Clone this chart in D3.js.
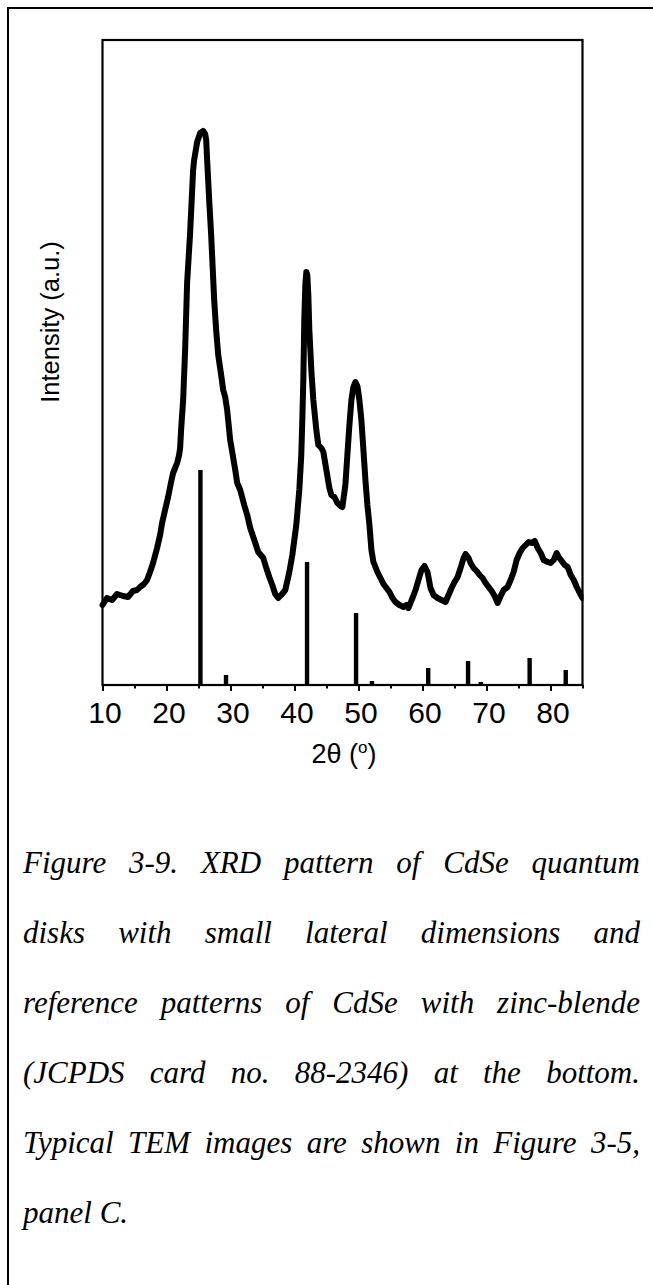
<!DOCTYPE html>
<html>
<head>
<meta charset="utf-8">
<script src="https://cdn.jsdelivr.net/npm/d3@7/dist/d3.min.js"></script>
<style>
  html, body { margin: 0; padding: 0; background: #fff; }
  svg { display: block; }
</style>
</head>
<body>
<svg id="fig" width="653" height="1285"></svg>
<script>
// Measured XRD pattern of the CdSe quantum disks (2θ in degrees, intensity in a.u.)
const twoTheta = [
  10.00, 10.70, 11.49, 12.27, 13.21, 13.99, 14.77, 15.40, 15.87, 16.49,
  16.96, 17.43, 17.90, 18.53, 19.00, 19.31, 19.78, 20.25, 20.72, 21.03,
  21.35, 21.66, 21.97, 22.13, 22.28, 22.60, 22.91, 23.22, 23.69, 24.16,
  24.32, 24.79, 25.26, 25.73, 26.04, 26.20, 26.35, 26.67, 26.98, 27.45,
  27.76, 28.08, 28.54, 28.86, 29.17, 29.48, 29.95, 30.27, 30.74, 31.05,
  31.52, 32.14, 32.61, 33.08, 33.71, 34.33, 35.12, 35.59, 36.06, 36.53,
  36.99, 37.46, 37.93, 38.56, 39.19, 39.66, 40.28, 40.75, 41.06, 41.22,
  41.38, 41.53, 41.69, 41.85, 42.00, 42.16, 42.32, 42.63, 42.94, 43.41,
  43.72, 44.19, 44.51, 44.98, 45.45, 45.76, 46.23, 46.70, 47.17, 47.48,
  47.95, 48.26, 48.58, 48.89, 49.20, 49.51, 49.83, 50.14, 50.45, 50.77,
  51.08, 51.39, 51.71, 52.02, 52.33, 52.96, 53.43, 53.90, 54.37, 54.84,
  55.31, 55.77, 56.40, 57.03, 57.50, 57.81, 58.12, 58.44, 58.91, 59.37,
  59.84, 60.31, 60.78, 61.25, 61.72, 62.35, 62.97, 63.60, 64.07, 64.54,
  65.01, 65.48, 65.95, 66.42, 66.73, 67.20, 67.51, 67.98, 68.45, 68.92,
  69.39, 69.86, 70.33, 70.80, 71.27, 71.74, 72.21, 72.68, 73.30, 73.77,
  74.24, 74.71, 75.18, 75.65, 76.12, 76.59, 77.06, 77.53, 78.00, 78.47,
  78.94, 79.56, 80.03, 80.50, 80.97, 81.28, 81.75, 82.22, 82.69, 83.16,
  83.63, 84.10, 84.57, 85.00
];
const intensity = [
  80, 87, 85, 91, 89, 88, 94, 95, 98, 101,
  105, 113, 122, 137, 150, 162, 175, 188, 203, 212,
  217, 222, 230, 237, 255, 285, 335, 402, 452, 515,
  525, 543, 552, 554, 551, 545, 525, 485, 450, 385,
  355, 330, 310, 295, 288, 275, 245, 233, 215, 202,
  195, 180, 170, 157, 145, 133, 127, 117, 108, 100,
  91, 87, 90, 95, 113, 130, 160, 195, 230, 265,
  305, 365, 400, 413, 410, 390, 355, 315, 285, 255,
  240, 237, 233, 215, 197, 190, 188, 182, 179, 178,
  200, 230, 260, 285, 298, 303, 299, 285, 265, 235,
  205, 180, 160, 135, 123, 113, 107, 101, 97, 93,
  87, 83, 80, 78, 80, 77, 82, 87, 95, 105,
  115, 119, 113, 97, 90, 87, 85, 83, 90, 97,
  103, 108, 117, 127, 131, 127, 122, 117, 114, 110,
  107, 102, 98, 94, 89, 82, 89, 95, 98, 105,
  113, 125, 132, 137, 140, 143, 142, 144, 137, 132,
  125, 123, 122, 125, 132, 128, 124, 120, 118, 110,
  105, 98, 92, 87
];

// Zinc-blende CdSe reference lines (JCPDS 88-2346)
const refPositions = [25.30, 29.30, 41.96, 49.62, 52.10, 60.89, 67.12, 69.10, 76.74, 82.38];
const refIntensity = [215, 10, 123, 72, 4, 17, 24, 3, 27, 15];

const xMajorTicks = [10, 20, 30, 40, 50, 60, 70, 80];
const xMinorTicks = [15, 25, 35, 45, 55, 65, 75, 85];

const captionLines = [
  "Figure 3-9. XRD pattern of CdSe quantum",
  "disks with small lateral dimensions and",
  "reference patterns of CdSe with zinc-blende",
  "(JCPDS card no. 88-2346) at the bottom.",
  "Typical TEM images are shown in Figure 3-5,",
  "panel C."
];

const svg = d3.select("#fig");
const W = 653, H = 1285;
svg.append("rect").attr("width", W).attr("height", H).attr("fill", "#fff");

// page frame (open on the right and bottom)
svg.append("rect")
  .attr("x", 8).attr("y", 8).attr("width", 760).attr("height", 1400)
  .attr("fill", "none").attr("stroke", "#000").attr("stroke-width", 2);

const plot = { left: 102.5, right: 582.5, top: 40, bottom: 685 };

const x = d3.scaleLinear().domain([10, 85]).range([plot.left, plot.right]);
const y = d3.scaleLinear().domain([0, 645]).range([plot.bottom, plot.top]);

const sansFont = "'Liberation Sans', Arial, sans-serif";

// reference sticks
svg.append("g").selectAll("rect")
  .data(refPositions.map((p, i) => ({ p, v: refIntensity[i] })))
  .join("rect")
  .attr("x", d => x(d.p) - 2.2)
  .attr("width", 4.4)
  .attr("y", d => y(d.v))
  .attr("height", d => y(0) - y(d.v))
  .attr("fill", "#000");

// measured pattern
const line = d3.line()
  .x((d, i) => x(twoTheta[i]))
  .y(d => y(d))
  .curve(d3.curveLinear);

svg.append("path")
  .datum(intensity)
  .attr("d", line)
  .attr("fill", "none")
  .attr("stroke", "#000")
  .attr("stroke-width", 6)
  .attr("stroke-linejoin", "round")
  .attr("stroke-linecap", "round");

// keep the trace inside the right edge
svg.append("rect").attr("x", plot.right + 1).attr("y", plot.top).attr("width", 8).attr("height", plot.bottom - plot.top).attr("fill", "#fff");

// axis frame
svg.append("rect")
  .attr("x", plot.left).attr("y", plot.top)
  .attr("width", plot.right - plot.left).attr("height", plot.bottom - plot.top)
  .attr("fill", "none").attr("stroke", "#000").attr("stroke-width", 2.2);

// bottom axis: major ticks with labels
const xAxis = d3.axisBottom(x)
  .tickValues(xMajorTicks)
  .tickSize(6)
  .tickPadding(10.5)
  .tickFormat(d3.format("d"));

const gx = svg.append("g")
  .attr("transform", `translate(0,${plot.bottom})`)
  .call(xAxis);
gx.select(".domain").remove();
gx.selectAll(".tick line").attr("stroke", "#000").attr("stroke-width", 2);
gx.selectAll(".tick text")
  .attr("font-family", sansFont)
  .attr("font-size", 30)
  .attr("dx", 2)
  .attr("fill", "#000");

// minor ticks
const xMinor = d3.axisBottom(x).tickValues(xMinorTicks).tickSize(3.5).tickFormat("");
const gxm = svg.append("g")
  .attr("transform", `translate(0,${plot.bottom})`)
  .call(xMinor);
gxm.select(".domain").remove();
gxm.selectAll(".tick line").attr("stroke", "#000").attr("stroke-width", 2);

// axis titles
const xt = svg.append("text")
  .attr("x", 344).attr("y", 763)
  .attr("text-anchor", "middle")
  .attr("font-family", sansFont)
  .attr("font-size", 27)
  .attr("fill", "#000");
xt.append("tspan").text("2θ (");
xt.append("tspan").attr("font-size", 17).attr("dy", -10).text("o");
xt.append("tspan").attr("dy", 10).text(")");

svg.append("text")
  .attr("transform", `translate(59,${322}) rotate(-90)`)
  .attr("text-anchor", "middle")
  .attr("font-family", sansFont)
  .attr("font-size", 25.5)
  .attr("fill", "#000")
  .text("Intensity (a.u.)");

// justified caption
const capFont = "'Liberation Serif', 'Times New Roman', serif";
const capSize = 31;
const capLeft = 23, capRight = 640;
const capTop = 873, capStep = 70;

function measure(str) {
  const t = svg.append("text")
    .attr("font-family", capFont).attr("font-size", capSize).attr("font-style", "italic")
    .text(str);
  const w = t.node().getComputedTextLength();
  t.remove();
  return w;
}
const spaceW = measure("a b") - measure("ab");

captionLines.forEach((ln, i) => {
  const words = ln.split(" ");
  const widths = words.map(measure);
  const total = d3.sum(widths);
  const last = i === captionLines.length - 1;
  const gap = last ? spaceW : (capRight - capLeft - total) / (words.length - 1);
  let cx = capLeft;
  const by = capTop + i * capStep;
  words.forEach((w, j) => {
    svg.append("text")
      .attr("x", cx).attr("y", by)
      .attr("font-family", capFont).attr("font-size", capSize).attr("font-style", "italic")
      .attr("fill", "#000")
      .text(w);
    cx += widths[j] + gap;
  });
});
</script>
</body>
</html>
